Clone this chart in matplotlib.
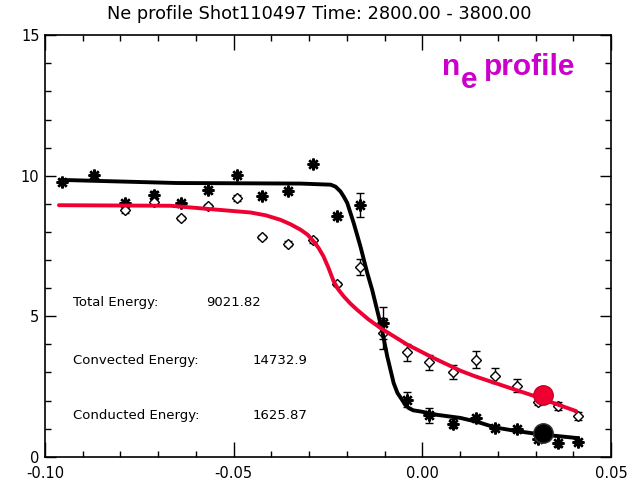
import matplotlib
matplotlib.use('Agg')
import matplotlib.pyplot as plt
from matplotlib.ticker import MultipleLocator, FormatStrFormatter

# ------------------------------------
#   data
# ------------------------------------

# asterisk points (with error bars)
star_x = [-0.0955, -0.0870, -0.0788, -0.0712, -0.0640, -0.0567, -0.0490, -0.0426,
          -0.0355, -0.0289, -0.0226, -0.0166, -0.0103, -0.0040, 0.0018, 0.0080,
          0.0142, 0.0193, 0.0252, 0.0307, 0.0359, 0.0412]
star_y = [9.76, 10.03, 9.03, 9.32, 9.03, 9.50, 10.04, 9.29,
          9.47, 10.43, 8.55, 8.97, 4.76, 2.03, 1.47, 1.18,
          1.38, 1.02, 0.98, 0.62, 0.48, 0.54]
star_err = [0.08, 0.08, 0.10, 0.12, 0.08, 0.10, 0.10, 0.08,
            0.10, 0.10, 0.08, 0.43, 0.57, 0.27, 0.28, 0.15,
            0.12, 0.12, 0.10, 0.10, 0.12, 0.10]

# diamond points (with error bars)
diam_x = [-0.0788, -0.0712, -0.0640, -0.0567, -0.0490, -0.0426, -0.0355, -0.0289,
          -0.0226, -0.0166, -0.0103, -0.0040, 0.0018, 0.0080, 0.0142, 0.0193,
          0.0252, 0.0307, 0.0359, 0.0412]
diam_y = [8.77, 9.05, 8.49, 8.91, 9.21, 7.82, 7.58, 7.70,
          6.15, 6.75, 4.40, 3.71, 3.36, 3.00, 3.45, 2.88,
          2.52, 1.96, 1.80, 1.44]
diam_err = [0.08, 0.08, 0.08, 0.10, 0.10, 0.08, 0.08, 0.10,
            0.08, 0.28, 0.55, 0.31, 0.27, 0.25, 0.31, 0.26,
            0.23, 0.12, 0.15, 0.15]

# fitted profiles
black_fit_x = [-0.0958, -0.0651, -0.0323, -0.0243, -0.0230, -0.0217, -0.0208, -0.0199,
               -0.0182, -0.0164, -0.0146, -0.0133, -0.0120, -0.0107, -0.0093, -0.0076,
               -0.0066, -0.0054, -0.0045, -0.0036, -0.0024, -0.0005, 0.0039, 0.0101,
               0.0148, 0.0193, 0.0251, 0.0310, 0.0413]
black_fit_y = [9.85, 9.74, 9.72, 9.68, 9.61, 9.44, 9.25, 9.03,
               8.32, 7.48, 6.54, 5.94, 5.23, 4.52, 3.57, 2.62,
               2.27, 2.03, 1.84, 1.73, 1.65, 1.61, 1.49, 1.38,
               1.23, 1.04, 0.91, 0.80, 0.66]
red_fit_x = [-0.0963, -0.0667, -0.0561, -0.0455, -0.0415, -0.0376, -0.0349, -0.0323,
             -0.0304, -0.0288, -0.0275, -0.0262, -0.0249, -0.0235, -0.0222, -0.0208,
             -0.0190, -0.0173, -0.0143, -0.0111, -0.0040, 0.0030, 0.0101, 0.0140,
             0.0220, 0.0301, 0.0354, 0.0408]
red_fit_y = [8.95, 8.93, 8.81, 8.69, 8.59, 8.43, 8.27, 8.08,
             7.90, 7.66, 7.43, 7.13, 6.73, 6.24, 5.94, 5.70,
             5.44, 5.23, 4.89, 4.58, 3.99, 3.51, 3.06, 2.86,
             2.50, 2.14, 1.88, 1.62]

# separatrix markers
sep_x = [0.032]
sep_red_y = [2.2]
sep_black_y = [0.85]

energy_labels = ['Total Energy:', 'Convected Energy:', 'Conducted Energy:']
energy_values = ['9021.82', '14732.9', '1625.87']

title = 'Ne profile Shot110497 Time: 2800.00 - 3800.00'

# ------------------------------------
#   figure
# ------------------------------------
fig = plt.figure(figsize=(6.39, 4.88), dpi=100)
ax = fig.add_axes([45 / 639, 1 - 456.7 / 488, 566 / 639, 421.5 / 488])

star_marker = (8, 2, 0)
ax.errorbar(diam_x, diam_y, yerr=diam_err, fmt='D', ms=5.5, mfc='white', mec='black',
            mew=1.0, ecolor='black', elinewidth=1.0, capsize=3, capthick=1.0, zorder=3)
ax.errorbar(star_x, star_y, yerr=star_err, fmt='none', ecolor='black',
            elinewidth=1.0, capsize=3, capthick=1.0, zorder=3)
ax.plot(star_x, star_y, ls='none', marker=star_marker, ms=8.5, mec='black', mew=1.7, zorder=3)

ax.plot(black_fit_x, black_fit_y, color='black', lw=2.8, solid_capstyle='round',
        solid_joinstyle='round', zorder=4)
ax.plot(red_fit_x, red_fit_y, color='#ee0033', lw=2.8, solid_capstyle='round',
        solid_joinstyle='round', zorder=4)

ax.plot(sep_x, sep_red_y, 'o', ms=14, color='#ee0033', mec='#cc0022', zorder=5)
ax.plot(sep_x, sep_black_y, 'o', ms=14, color='black', mec='#333333', zorder=5)

ax.set_xlim(-0.10, 0.05)
ax.set_ylim(0, 15)
ax.xaxis.set_major_locator(MultipleLocator(0.05))
ax.xaxis.set_minor_locator(MultipleLocator(0.01))
ax.xaxis.set_major_formatter(FormatStrFormatter('%.2f'))
ax.yaxis.set_major_locator(MultipleLocator(5))
ax.yaxis.set_minor_locator(MultipleLocator(1))

ax.tick_params(axis='x', which='major', direction='in', length=11, width=1.0,
               top=True, labelsize=10.5, pad=7)
ax.tick_params(axis='x', which='minor', direction='in', length=4, width=1.0, top=True)
ax.tick_params(axis='y', which='major', direction='in', length=8, width=1.0,
               right=True, labelsize=10.5, pad=4)
ax.tick_params(axis='y', which='minor', direction='in', length=4, width=1.0, right=True)
for s in ax.spines.values():
    s.set_linewidth(1.2)

# energy block
label_y = [5.5, 3.44, 1.48]
value_x = [-0.0574, -0.0450, -0.0450]
for lab, val, yy, vx in zip(energy_labels, energy_values, label_y, value_x):
    ax.text(-0.0926, yy, lab, fontsize=9.5, va='center', ha='left')
    ax.text(vx, yy, val, fontsize=9.5, va='center', ha='left')

# title
fig.text(0.5, 1 - 14 / 488, title, fontsize=12.8, ha='center', va='center')

# n_e profile label
lab_kw = dict(color='#cc00cc', fontsize=21.5, fontweight='bold',
              family='Liberation Sans', va='baseline', ha='left')
fig.text(442 / 639, 1 - 75 / 488, 'n', **lab_kw)
fig.text(461 / 639, 1 - 88 / 488, 'e', **lab_kw)
fig.text(484 / 639, 1 - 75 / 488, 'profile', **lab_kw)

fig.savefig('out.png', dpi=100)
